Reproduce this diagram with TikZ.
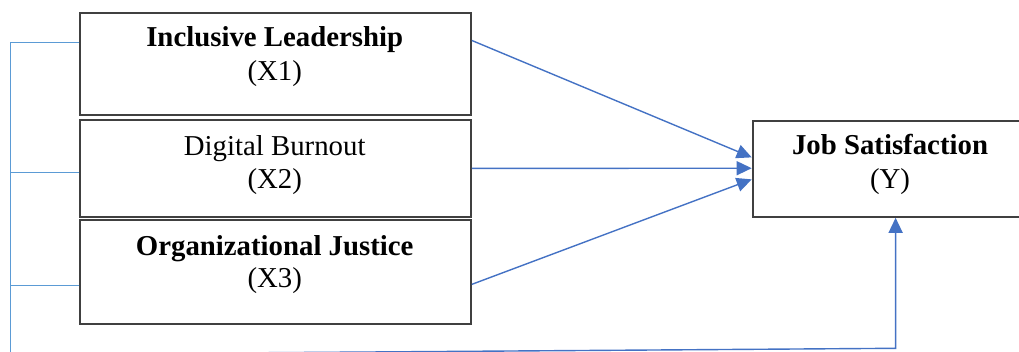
\documentclass[tikz,border=0pt]{standalone}
\usepackage{fontspec}
\setmainfont{Liberation Serif}
\usetikzlibrary{arrows.meta,calc}
\definecolor{boxgray}{HTML}{404040}
\definecolor{linkblue}{HTML}{4472C4}
\definecolor{railblue}{HTML}{5B9BD5}
\begin{document}
\begin{tikzpicture}[x=1pt,y=-1pt,
  box/.style={draw=boxgray, line width=1.8pt, inner sep=0pt, anchor=north west},
  lab/.style={anchor=base, inner sep=0pt, font=\fontsize{28.8}{33}\selectfont},
  hd/.style={lab, font=\fontsize{28.8}{33}\selectfont\bfseries},
  link/.style={draw=linkblue, line width=1.4pt},
  tip/.style={-{Triangle[length=15pt,width=14pt]}},
  rail/.style={draw=railblue, line width=1.4pt}
]
\useasboundingbox (0,0) rectangle (1019,351);
\clip (0,0) rectangle (1019,351);

% variable boxes
\node[box, minimum width=390.7pt, minimum height=102pt] (x1) at (79.3,11.7) {};
\node[box, minimum width=390.7pt, minimum height=96.4pt] (x2) at (79.3,119.3) {};
\node[box, minimum width=390.7pt, minimum height=104pt] (x3) at (79.3,219.3) {};
\node[box, minimum width=276.3pt, minimum height=96pt] (y) at (751.7,120) {};

% box texts
\node[hd]  (x1a) at (274.7,46.7) {Inclusive Leadership};
\node[lab] (x1b) at (274.7,80)   {(X1)};
\node[lab] (x2a) at (274.7,155)  {Digital Burnout};
\node[lab] (x2b) at (274.7,188)  {(X2)};
\node[hd]  (x3a) at (274.7,255)  {Organizational Justice};
\node[lab] (x3b) at (274.7,287)  {(X3)};
\node[hd]  (ya)  at (890,154)    {Job Satisfaction};
\node[lab] (yb)  at (890,188)    {(Y)};

% direct paths to Y
\draw[link,tip] ($(x1.north east)!0.277!(x1.south east)$) -- ($(y.north west)!0.382!(y.south west)$);
\draw[link,tip] (x2.east) -- ($(y.north west)!0.493!(y.south west)$);
\draw[link,tip] ($(x3.north east)!0.615!(x3.south east)$) -- ($(y.north west)!0.607!(y.south west)$);

% joint path along the left and bottom
\coordinate (railend) at (10.7,354.5);
\coordinate (turn) at (895.6,348.3);
\draw[rail] ($(x1.north west)!0.294!(x1.south west)$) -| (railend);
\draw[rail] ($(x2.north west)!0.544!(x2.south west)$) -- ++(-68.6,0);
\draw[rail] ($(x3.north west)!0.625!(x3.south west)$) -- ++(-68.6,0);
\draw[link,tip] (railend) -- (turn) -- (turn |- y.south);
\end{tikzpicture}
\end{document}
